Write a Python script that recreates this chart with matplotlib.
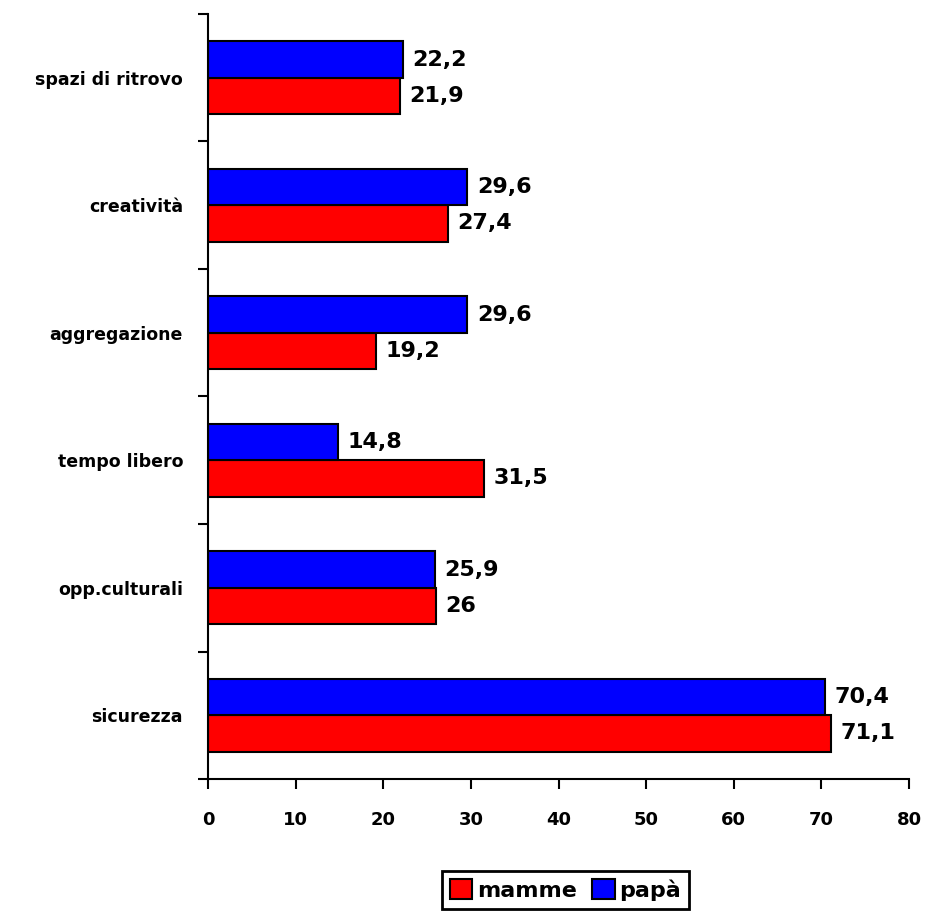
import matplotlib
matplotlib.use("Agg")
import matplotlib.pyplot as plt
import numpy as np

categories = ["sicurezza", "opp.culturali", "tempo libero", "aggregazione", "creatività", "spazi di ritrovo"]
mamme = [71.1, 26, 31.5, 19.2, 27.4, 21.9]
papa = [70.4, 25.9, 14.8, 29.6, 29.6, 22.2]
series_names = ["mamme", "papà"]
xticks = [0, 10, 20, 30, 40, 50, 60, 70, 80]

def fmt(v):
    s = f"{v:.1f}".rstrip("0").rstrip(".")
    return s.replace(".", ",")

plt.rcParams['font.family'] = ['DejaVu Sans']
fig = plt.figure(figsize=(9.35, 9.21), dpi=100)
ax = fig.add_axes([208/935, 1-779/921, (909-208)/935, (779-14)/921])

y = np.arange(len(categories))
h = 0.285
bm = ax.barh(y - h/2, mamme, height=h, color="#ff0000", edgecolor="black", linewidth=1.5, label=series_names[0])
bp = ax.barh(y + h/2, papa, height=h, color="#0000ff", edgecolor="black", linewidth=1.5, label=series_names[1])

for yi, v in zip(y, mamme):
    ax.text(v + 1.1, yi - h/2, fmt(v), va="center", ha="left", fontsize=16, fontweight="bold")
for yi, v in zip(y, papa):
    ax.text(v + 1.1, yi + h/2, fmt(v), va="center", ha="left", fontsize=16, fontweight="bold")

ax.set_xlim(0, 80)
ax.set_ylim(-0.5, len(categories) - 0.5)
ax.set_xticks(xticks)
ax.set_xticklabels([str(t) for t in xticks], fontsize=13, fontweight="bold")
ax.set_yticks(np.arange(-0.5, len(categories), 1.0), minor=False)
ax.set_yticklabels([""] * (len(categories) + 1))
ax.set_yticks(y, minor=True)
ax.set_yticklabels(categories, minor=True, fontsize=12.5, fontweight="bold")
ax.tick_params(axis="y", which="minor", length=0, pad=18)
ax.tick_params(axis="y", which="major", length=7, width=1.5, direction="out")
ax.tick_params(axis="x", length=7, width=1.5, direction="out", pad=16)

for s in ["top", "right"]:
    ax.spines[s].set_visible(False)
for s in ["left", "bottom"]:
    ax.spines[s].set_linewidth(1.5)

leg = fig.legend(handles=[bm, bp], labels=series_names, loc="center",
                 bbox_to_anchor=((443+688)/2/935, 1-890/921), ncol=2,
                 frameon=True, fancybox=False, edgecolor="black", framealpha=1,
                 prop={"weight": "bold", "size": 16}, handlelength=1.0, handleheight=1.0,
                 handletextpad=0.2, columnspacing=0.7, borderpad=0.35)
leg.get_frame().set_linewidth(2)

fig.savefig("out.png", dpi=100)
